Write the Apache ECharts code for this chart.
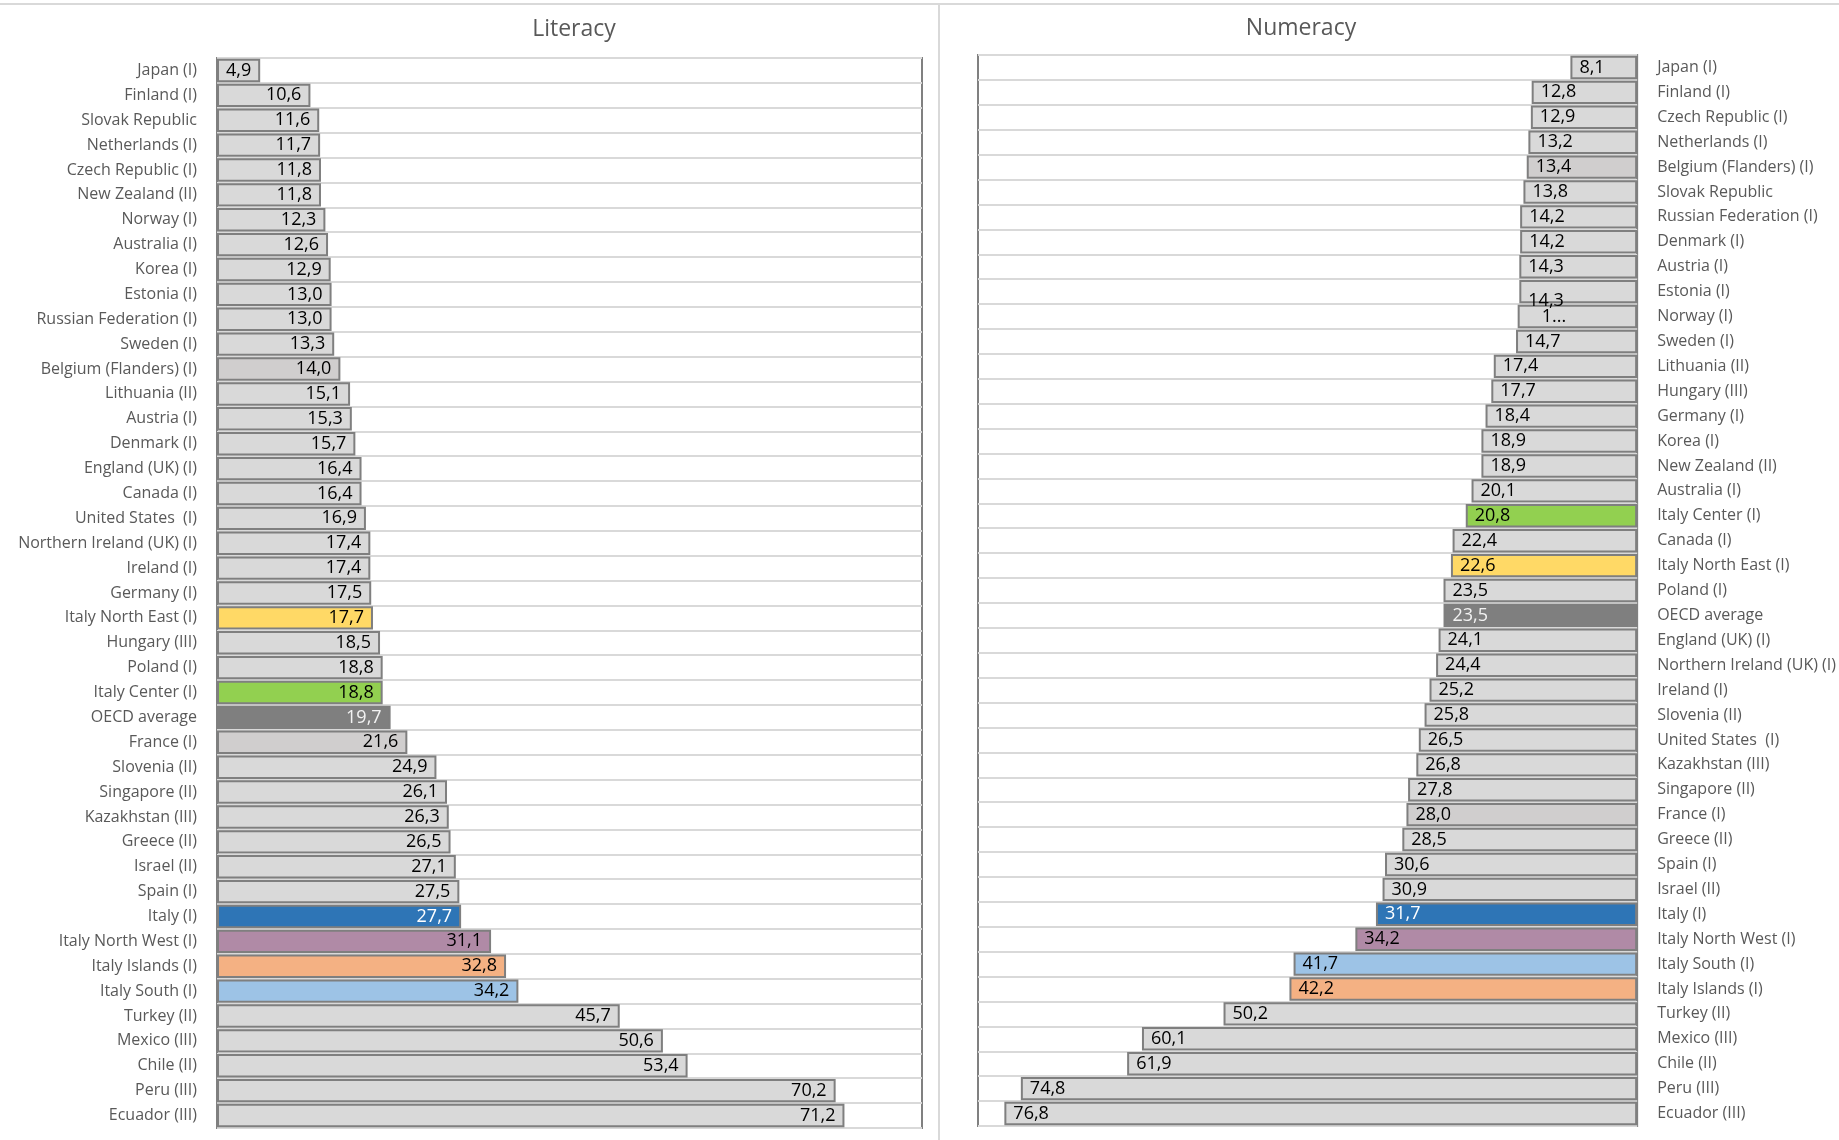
<!DOCTYPE html>
<html>
<head>
<meta charset="utf-8">
<script src="https://cdn.jsdelivr.net/npm/echarts@6/dist/echarts.min.js"></script>
<style>
  html, body { margin: 0; padding: 0; background: #fff; }
  #chart { width: 1839px; height: 1140px; }
</style>
</head>
<body>
<div id="chart"></div>
<script>
// Literacy: share of adults at or below level 1
const literacyCategories = [
  'Japan (I)', 'Finland (I)', 'Slovak Republic', 'Netherlands (I)', 'Czech Republic (I)',
  'New Zealand (II)', 'Norway (I)', 'Australia (I)', 'Korea (I)', 'Estonia (I)',
  'Russian Federation (I)', 'Sweden (I)', 'Belgium (Flanders) (I)', 'Lithuania (II)', 'Austria (I)',
  'Denmark (I)', 'England (UK) (I)', 'Canada (I)', 'United States  (I)', 'Northern Ireland (UK) (I)',
  'Ireland (I)', 'Germany (I)', 'Italy North East (I)', 'Hungary (III)', 'Poland (I)',
  'Italy Center (I)', 'OECD average', 'France (I)', 'Slovenia (II)', 'Singapore (II)',
  'Kazakhstan (III)', 'Greece (II)', 'Israel (II)', 'Spain (I)', 'Italy (I)',
  'Italy North West (I)', 'Italy Islands (I)', 'Italy South (I)', 'Turkey (II)', 'Mexico (III)',
  'Chile (II)', 'Peru (III)', 'Ecuador (III)'
];
const literacyValues = [
  4.9, 10.6, 11.6, 11.7, 11.8,
  11.8, 12.3, 12.6, 12.9, 13.0,
  13.0, 13.3, 14.0, 15.1, 15.3,
  15.7, 16.4, 16.4, 16.9, 17.4,
  17.4, 17.5, 17.7, 18.5, 18.8,
  18.8, 19.7, 21.6, 24.9, 26.1,
  26.3, 26.5, 27.1, 27.5, 27.7,
  31.1, 32.8, 34.2, 45.7, 50.6,
  53.4, 70.2, 71.2
];

// Numeracy: share of adults at or below level 1
const numeracyCategories = [
  'Japan (I)', 'Finland (I)', 'Czech Republic (I)', 'Netherlands (I)', 'Belgium (Flanders) (I)',
  'Slovak Republic', 'Russian Federation (I)', 'Denmark (I)', 'Austria (I)', 'Estonia (I)',
  'Norway (I)', 'Sweden (I)', 'Lithuania (II)', 'Hungary (III)', 'Germany (I)',
  'Korea (I)', 'New Zealand (II)', 'Australia (I)', 'Italy Center (I)', 'Canada (I)',
  'Italy North East (I)', 'Poland (I)', 'OECD average', 'England (UK) (I)', 'Northern Ireland (UK) (I)',
  'Ireland (I)', 'Slovenia (II)', 'United States  (I)', 'Kazakhstan (III)', 'Singapore (II)',
  'France (I)', 'Greece (II)', 'Spain (I)', 'Israel (II)', 'Italy (I)',
  'Italy North West (I)', 'Italy South (I)', 'Italy Islands (I)', 'Turkey (II)', 'Mexico (III)',
  'Chile (II)', 'Peru (III)', 'Ecuador (III)'
];
const numeracyValues = [
  8.1, 12.8, 12.9, 13.2, 13.4,
  13.8, 14.2, 14.2, 14.3, 14.3,
  14.5, 14.7, 17.4, 17.7, 18.4,
  18.9, 18.9, 20.1, 20.8, 22.4,
  22.6, 23.5, 23.5, 24.1, 24.4,
  25.2, 25.8, 26.5, 26.8, 27.8,
  28.0, 28.5, 30.6, 30.9, 31.7,
  34.2, 41.7, 42.2, 50.2, 60.1,
  61.9, 74.8, 76.8
];

const axisMax = 80;

// Fill colours for the highlighted entries; everything else is light grey
const barFill = {
  'Italy North East (I)': '#ffd966',
  'Italy Center (I)': '#92d050',
  'OECD average': '#7f7f7f',
  'Italy (I)': '#2e75b6',
  'Italy North West (I)': '#b08aa6',
  'Italy Islands (I)': '#f4b183',
  'Italy South (I)': '#9dc3e6',
  'Belgium (Flanders) (I)': '#d0cece',
  'France (I)': '#d0cece'
};
const labelColor = {
  'Italy (I)': '#ffffff',
  'OECD average': '#f2f2f2'
};

const FONT = '"Open Sans", "Noto Sans", sans-serif';
const fmt = v => v.toFixed(1).replace('.', ',');

function buildItems(cats, vals, tweaks) {
  return vals.map((v, i) => {
    const name = cats[i];
    const item = {
      value: v,
      itemStyle: { color: barFill[name] || '#d9d9d9' },
      label: { color: labelColor[name] || '#000000' }
    };
    if (tweaks && tweaks[name]) Object.assign(item.label, tweaks[name]);
    return item;
  });
}

// Crowded labels in the numeracy panel (Estonia pushed down, Norway truncated)
const numeracyLabelTweaks = {
  'Estonia (I)': { offset: [0, 9] },
  'Norway (I)': { formatter: '1...', offset: [15, 0] }
};

const chart = echarts.init(document.getElementById('chart'), null, { renderer: 'canvas' });

const catAxisCommon = {
  type: 'category',
  inverse: true,
  axisLine: { show: false },
  axisTick: { show: false },
  splitLine: { show: true, lineStyle: { color: '#d9d9d9', width: 2 } },
  axisLabel: { color: '#595959', fontSize: 16, fontFamily: FONT, margin: 20, interval: 0 }
};

const barCommon = {
  type: 'bar',
  barCategoryGap: '6%',
  itemStyle: { borderColor: '#7f7f7f', borderWidth: 2 },
  label: {
    show: true,
    fontSize: 18,
    fontFamily: FONT,
    distance: 9,
    formatter: p => fmt(p.value)
  },
  animation: false
};

chart.setOption({
  animation: false,
  backgroundColor: '#ffffff',
  title: [
    { text: 'Literacy', left: 569, top: 13, textAlign: 'center',
      textStyle: { color: '#595959', fontSize: 23, fontWeight: 'normal', fontFamily: FONT } },
    { text: 'Numeracy', left: 1296, top: 12, textAlign: 'center',
      textStyle: { color: '#595959', fontSize: 23, fontWeight: 'normal', fontFamily: FONT } }
  ],
  graphic: [
    { type: 'line', shape: { x1: 0, y1: 4, x2: 1839, y2: 4 }, style: { stroke: '#d9d9d9', lineWidth: 2 }, silent: true },
    { type: 'line', shape: { x1: 939, y1: 4, x2: 939, y2: 1140 }, style: { stroke: '#d9d9d9', lineWidth: 2 }, silent: true }
  ],
  grid: [
    { left: 217, top: 58, width: 705, height: 1070, show: true,
      borderColor: '#808080', borderWidth: 2, backgroundColor: 'transparent' },
    { left: 978, top: 55, width: 660, height: 1071, show: true,
      borderColor: '#808080', borderWidth: 2, backgroundColor: 'transparent' }
  ],
  xAxis: [
    { gridIndex: 0, type: 'value', min: 0, max: axisMax, show: false },
    { gridIndex: 1, type: 'value', min: 0, max: axisMax, inverse: true, show: false }
  ],
  yAxis: [
    Object.assign({}, catAxisCommon, { gridIndex: 0, data: literacyCategories, position: 'left' }),
    Object.assign({}, catAxisCommon, { gridIndex: 1, data: numeracyCategories, position: 'right',
      axisLabel: Object.assign({}, catAxisCommon.axisLabel, { align: 'left' }) })
  ],
  series: [
    Object.assign({}, barCommon, {
      name: 'Literacy', xAxisIndex: 0, yAxisIndex: 0,
      label: Object.assign({}, barCommon.label, { position: 'insideRight' }),
      data: buildItems(literacyCategories, literacyValues)
    }),
    Object.assign({}, barCommon, {
      name: 'Numeracy', xAxisIndex: 1, yAxisIndex: 1,
      label: Object.assign({}, barCommon.label, { position: 'insideLeft' }),
      data: buildItems(numeracyCategories, numeracyValues, numeracyLabelTweaks)
    })
  ]
});
</script>
</body>
</html>
